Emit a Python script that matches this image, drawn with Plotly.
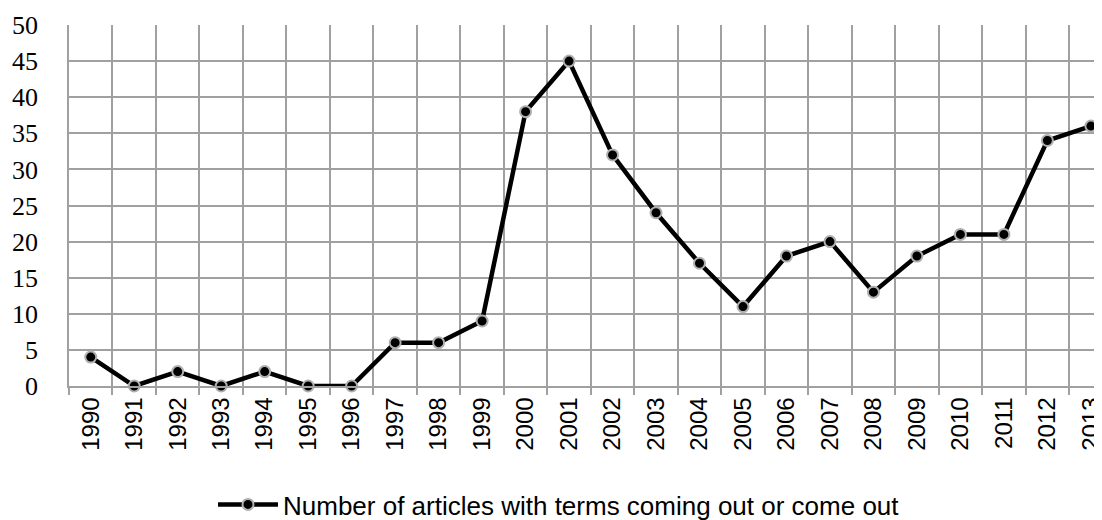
import plotly.graph_objects as go

years = [str(y) for y in range(1990, 2014)]
counts = [4, 0, 2, 0, 2, 0, 0, 6, 6, 9, 38, 45, 32, 24, 17, 11, 18, 20, 13, 18, 21, 21, 34, 36]
series_name = "Number of articles with terms coming out or come out"
y_ticks = list(range(0, 55, 5))

W, H = 1102, 520
ml, mr, mt, mb = 61, 0, 17, 141

fig = go.Figure()
fig.add_trace(go.Scatter(
    x=years, y=counts, mode="lines+markers", name=series_name,
    line=dict(color="black", width=4.5),
    marker=dict(size=11, color="black", line=dict(color="#b0b0b0", width=2)),
    cliponaxis=False,
))

grid = "#a0a0a0"
fig.update_layout(
    width=W, height=H,
    margin=dict(l=ml, r=mr, t=mt, b=mb),
    plot_bgcolor="white", paper_bgcolor="white",
    showlegend=True,
    legend=dict(orientation="h", x=(205 - ml) / (W - ml - mr), xanchor="left",
                y=(379 - 498) / (H - mt - mb), yanchor="middle",
                font=dict(family="Liberation Sans, Arial", size=26, color="black"),
                itemwidth=60, bgcolor="rgba(0,0,0,0)"),
    xaxis=dict(
        type="category", range=[-0.5, 23.44],
        tickson="boundaries", showgrid=True, gridcolor=grid, gridwidth=1.5,
        ticks="outside", ticklen=7, tickcolor=grid, tickwidth=1.5,
        tickangle=-90,
        tickfont=dict(family="Liberation Sans, Arial", size=24, color="black"),
        showline=True, linecolor=grid, linewidth=1.5, mirror=False,
        zeroline=False,
    ),
    yaxis=dict(
        range=[0, 50], tickvals=y_ticks,
        showgrid=True, gridcolor=grid, gridwidth=1.5,
        ticks="", ticklabelstandoff=24,
        tickfont=dict(family="Liberation Serif, Cambria, serif", size=26, color="black"),
        showline=True, linecolor=grid, linewidth=1.5,
        zeroline=False,
    ),
)

fig.write_html("out.html")
